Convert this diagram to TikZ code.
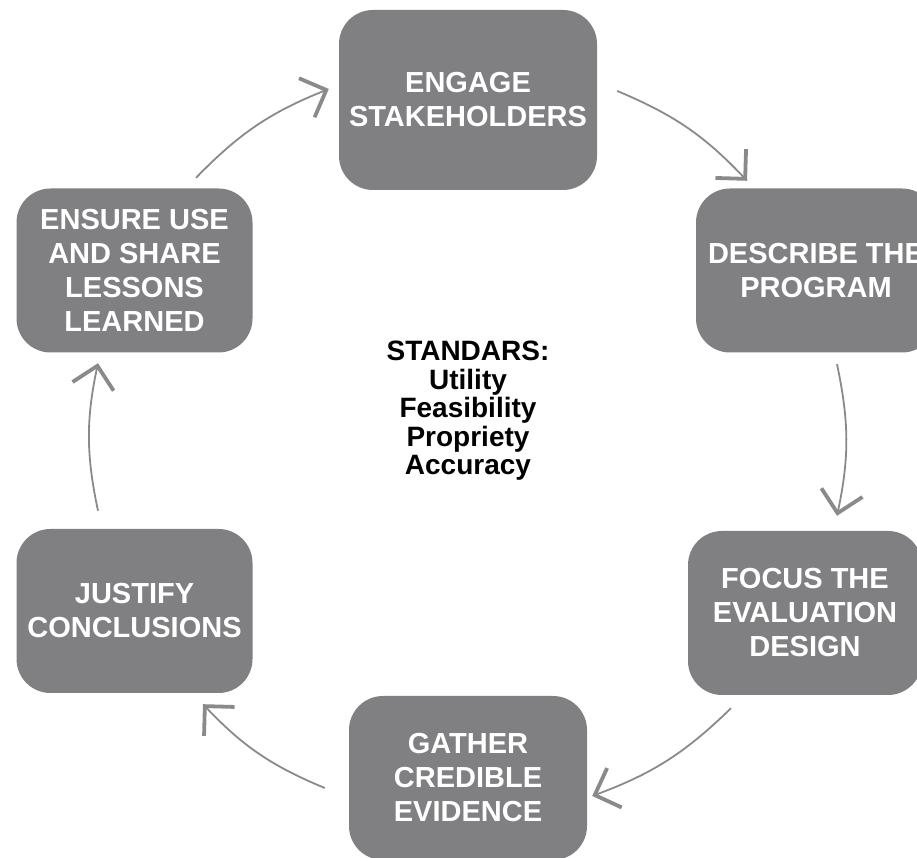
\documentclass[tikz,border=0pt]{standalone}
\usepackage{fontspec}
\setmainfont{Liberation Sans}
\usepackage{tikz}
\usetikzlibrary{arrows.meta}
\definecolor{boxgray}{RGB}{128,128,130}
\definecolor{arrowgray}{RGB}{138,138,138}
\newlength{\bw}
\setlength{\bw}{236pt}
\newlength{\bh}
\setlength{\bh}{164pt}

\begin{document}
\begin{tikzpicture}[x=1pt,y=1pt,
	stage/.style={fill=boxgray, rounded corners=34pt, text=white, align=center, inner sep=0pt,
		minimum width=\bw, minimum height=\bh, font=\bfseries\fontsize{29}{34}\selectfont},
	flow/.style={draw=arrowgray, line width=1.8pt, bend left=12,
		-{Straight Barb[length=21pt,width=42pt,line width=3.8pt]}}]
	\useasboundingbox (0,0) rectangle (917,858);

	\node[stage, minimum width=258pt, minimum height=180pt] (engage) at (468,758) {ENGAGE\\STAKEHOLDERS};
	\node[stage, minimum width=240pt] (describe) at (816,587.5) {DESCRIBE THE\\PROGRAM};
	\node[stage, minimum width=234pt] (focus) at (805,245) {FOCUS THE\\EVALUATION\\DESIGN};
	\node[stage, minimum width=238pt] (gather) at (468,80) {GATHER\\CREDIBLE\\EVIDENCE};
	\node[stage] (justify) at (134.5,247) {JUSTIFY\\CONCLUSIONS};
	\node[stage] (ensure) at (134.5,587.5) {ENSURE USE\\AND SHARE\\LESSONS\\LEARNED};

	\node[font=\bfseries\fontsize{28}{28.5}\selectfont, align=center] (standards) at (468,447) {STANDARS:\\Utility\\Feasibility\\Propriety\\Accuracy};

%	connectors
	\draw[flow] ([shift={(61.5,10.5)}]ensure.north) to ([shift={(-10,11)}]engage.west);
	\draw[flow] ([shift={(20,9)}]engage.east) to ([shift={(-69,7.5)}]describe.north);
	\draw[flow] ([shift={(21,-11.5)}]describe.south) to ([shift={(32,15)}]focus.north);
	\draw[flow] ([shift={(-74,-13)}]focus.south) to ([shift={(5,-18)}]gather.east);
	\draw[flow] ([shift={(-24,-10)}]gather.west) to ([shift={(68.5,-11)}]justify.south);
	\draw[flow] ([shift={(-36.5,18)}]justify.north) to ([shift={(-36.5,-10.5)}]ensure.south);
\end{tikzpicture}
\end{document}
